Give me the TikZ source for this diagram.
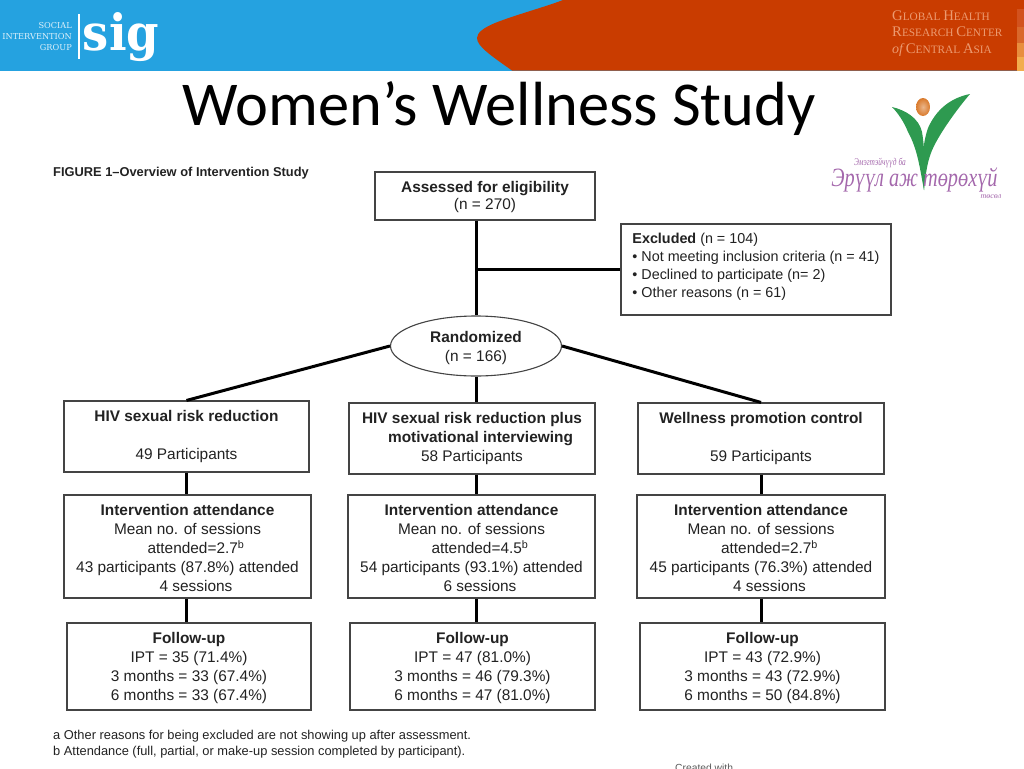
\documentclass[tikz,border=0pt]{standalone}
\usepackage{fontspec}
\setmainfont{Liberation Sans}
\newfontfamily\titlefont{Carlito}
\newfontfamily\slabfont{DejaVu Serif}
\newfontfamily\capfont{Liberation Serif}
\usetikzlibrary{shapes.geometric}
\definecolor{hdrblue}{HTML}{25A2E0}
\definecolor{hdrorange}{HTML}{C93C00}
\definecolor{capcol}{HTML}{EC9A70}
\definecolor{leafgreen}{HTML}{2E9A50}
\definecolor{ballorange}{HTML}{D97A2C}
\definecolor{logopurple}{HTML}{A468AC}
\definecolor{inktext}{HTML}{222222}
\definecolor{edgecol}{HTML}{444444}
\definecolor{stripea}{HTML}{D2521E}
\definecolor{stripeb}{HTML}{D9682B}
\definecolor{stripec}{HTML}{E88E3E}
\definecolor{striped}{HTML}{F2AD4D}
\tikzset{
  flowbox/.style={draw=edgecol,line width=1.1pt,fill=white,inner sep=0pt,align=center,text=inktext,
    font=\fontsize{15.4}{19}\selectfont},
  listbox/.style={flowbox,align=left,font=\fontsize{14.35}{18}\selectfont},
  ovalbox/.style={flowbox,ellipse},
  link/.style={black,line width=3pt},
  note/.style={inner sep=0pt,text=inktext,anchor=base west},
  capline/.style={inner sep=0pt,text=capcol,anchor=base west},
  logotext/.style={inner sep=0pt,text=logopurple,anchor=base},
  siglabel/.style={inner sep=0pt,anchor=base east,text=white!85!hdrblue,font=\slabfont\fontsize{8.2}{9}\selectfont}
}
\newcommand{\bxn}[6]{%
  \pgfmathsetmacro{\bcx}{(#2+#4)/2}\pgfmathsetmacro{\bcy}{(#3+#5)/2}%
  \pgfmathsetmacro{\bw}{#4-#2}\pgfmathsetmacro{\bh}{#5-#3}%
  \node[flowbox,minimum width=\bw pt,minimum height=\bh pt] (#1) at (\bcx,\bcy) {#6};}
\newcommand{\capB}[1]{{\capfont\fontsize{14.7}{13}\selectfont #1}}
\newcommand{\capS}[1]{{\capfont\fontsize{11.3}{13}\selectfont #1}}
\newcommand{\off}{\hspace*{17pt}}
\newcommand{\lift}{\rule{0pt}{15pt}}
\begin{document}
\begin{tikzpicture}[x=1pt,y=-1pt]
\useasboundingbox (0,0) rectangle (1024,768);
% header
\fill[hdrblue] (0,0) rectangle (1024,70.5);
\fill[hdrorange] (1024,0) -- (563,0) .. controls (545,7) and (515,15) .. (495,23)
  .. controls (483,28) and (477,33) .. (477,38) .. controls (477,46) and (490,55) .. (512,70.5)
  -- (1024,70.5) -- cycle;
\fill[stripea] (1017,9) rectangle (1024,27);
\fill[stripeb] (1017,27) rectangle (1024,43);
\fill[stripec] (1017,43) rectangle (1024,57);
\fill[striped] (1017,57) rectangle (1024,70.5);
\fill[white] (78,14) rectangle (80,59);
\node[inner sep=0pt,anchor=base,text=white,font=\slabfont\bfseries\fontsize{50}{50}\selectfont] (sigword) at (121,50) {\scalebox{0.93}[1]{sig}};
\node[siglabel] (sg1) at (72,29) {SOCIAL};
\node[siglabel] (sg2) at (72,39.5) {INTERVENTION};
\node[siglabel] (sg3) at (72,50) {GROUP};
\node[capline] (gh1) at (892,21) {\capB{G}\capS{LOBAL} \capB{H}\capS{EALTH}};
\node[capline] (gh2) at (892,37) {\capB{R}\capS{ESEARCH} \capB{C}\capS{ENTER}};
\node[capline] (gh3) at (892,53) {{\capfont\itshape\fontsize{14}{13}\selectfont of} \capB{C}\capS{ENTRAL} \capB{A}\capS{SIA}};
% title
\node[inner sep=0pt,anchor=base,font=\titlefont\fontsize{62.4}{62}\selectfont] (title) at (499,125) {Women’s Wellness Study};
% leaf logo
\fill[leafgreen] (892,107) .. controls (905,110) and (919,118) .. (922,132)
  .. controls (925,150) and (925,170) .. (924,190)
  .. controls (920,170) and (918,150) .. (908,132) .. controls (904,122) and (898,113) .. (892,107) -- cycle;
\fill[leafgreen] (970,94) .. controls (950,98) and (936,110) .. (928,128)
  .. controls (922,145) and (921,170) .. (924,190)
  .. controls (926,170) and (928,158) .. (934,146) .. controls (942,130) and (958,108) .. (970,94) -- cycle;
\shade[inner color=ballorange!55!white,outer color=ballorange] (923,107) ellipse (7 and 9);
\node[logotext,font=\capfont\itshape\fontsize{7.4}{8}\selectfont] (lg1) at (880,165) {\scalebox{1}[1.4]{Эмэгтэйчүүд ба}};
\node[logotext,font=\capfont\itshape\fontsize{20.3}{21}\selectfont] (lg2) at (914.5,186) {\scalebox{1}[1.3]{Эрүүл аж төрөхүй}};
\node[logotext,font=\capfont\itshape\fontsize{8}{8}\selectfont] (lg3) at (991,198) {төсөл};
% figure
\node[note,font=\bfseries\fontsize{12.85}{14}\selectfont] (figcap) at (53,176) {FIGURE 1–Overview of Intervention Study};
\bxn{assess}{375}{172}{595}{220}{\rule{0pt}{13pt}\textbf{Assessed for eligibility}\\[-2pt](n = 270)}
\node[listbox,minimum width=270pt,minimum height=91pt] (excl) at (756,269.5) {\textbf{Excluded} (n = 104)\\• Not meeting inclusion criteria (n = 41)\hspace*{3pt}\\• Declined to participate (n= 2)\\• Other reasons (n = 61)\rule[-8pt]{0pt}{8pt}};
\node[ovalbox,minimum width=171pt,minimum height=60pt] (rand) at (476,346) {\rule{0pt}{16pt}\textbf{Randomized}\\(n = 166)};
\bxn{aone}{64}{401}{309}{472}{\textbf{HIV sexual risk reduction}\\[19pt]49 Participants\rule[-4pt]{0pt}{4pt}}
\bxn{bone}{349}{403}{595}{474}{\textbf{HIV sexual risk reduction plus}\\\off\textbf{motivational interviewing}\\58 Participants}
\bxn{cone}{638}{403}{884}{474}{\textbf{Wellness promotion control}\\[19pt]59 Participants}
\bxn{atwo}{64}{495}{311}{598}{\lift\textbf{Intervention attendance}\\Mean no. of sessions\\\off attended=2.7\textsuperscript{b}\\43 participants (87.8\%) attended\\\off 4 sessions}
\bxn{btwo}{348}{495}{595}{598}{\lift\textbf{Intervention attendance}\\Mean no. of sessions\\\off attended=4.5\textsuperscript{b}\\54 participants (93.1\%) attended\\\off 6 sessions}
\bxn{ctwo}{637}{495}{885}{598}{\lift\textbf{Intervention attendance}\\Mean no. of sessions\\\off attended=2.7\textsuperscript{b}\\45 participants (76.3\%) attended\\\off 4 sessions}
\bxn{athree}{67}{623}{311}{710}{\lift\textbf{Follow-up}\\IPT = 35 (71.4\%)\\3 months = 33 (67.4\%)\\6 months = 33 (67.4\%)}
\bxn{bthree}{350}{623}{595}{710}{\lift\textbf{Follow-up}\\IPT = 47 (81.0\%)\\3 months = 46 (79.3\%)\\6 months = 47 (81.0\%)}
\bxn{cthree}{640}{623}{885}{710}{\lift\textbf{Follow-up}\\IPT = 43 (72.9\%)\\3 months = 43 (72.9\%)\\6 months = 50 (84.8\%)}
% connectors
\coordinate (spine) at (476,0);
\draw[link] (spine |- assess.south) -- (spine |- rand.north);
\draw[link] (spine |- excl.west) -- (excl.west);
\draw[link] (rand.south) -- (spine |- bone.north);
\draw[link] (spine |- bone.south) -- (spine |- btwo.north);
\draw[link] (spine |- btwo.south) -- (spine |- bthree.north);
\draw[link] (rand.west) -- (aone.north);
\draw[link] (rand.east) -- (cone.north);
\draw[link] (aone.south) -- (aone.south |- atwo.north);
\draw[link] (aone.south |- atwo.south) -- (aone.south |- athree.north);
\draw[link] (cone.south) -- (cone.south |- ctwo.north);
\draw[link] (cone.south |- ctwo.south) -- (cone.south |- cthree.north);
% notes
\node[note,font=\fontsize{12.85}{14}\selectfont] (fna) at (53,739) {a Other reasons for being excluded are not showing up after assessment.};
\node[note,font=\fontsize{12.85}{14}\selectfont] (fnb) at (53,755) {b Attendance (full, partial, or make-up session completed by participant).};
\node[inner sep=0pt,anchor=base west,text=black!65,font=\fontsize{10.3}{11}\selectfont] (made) at (675,771) {Created with};
\end{tikzpicture}
\end{document}
